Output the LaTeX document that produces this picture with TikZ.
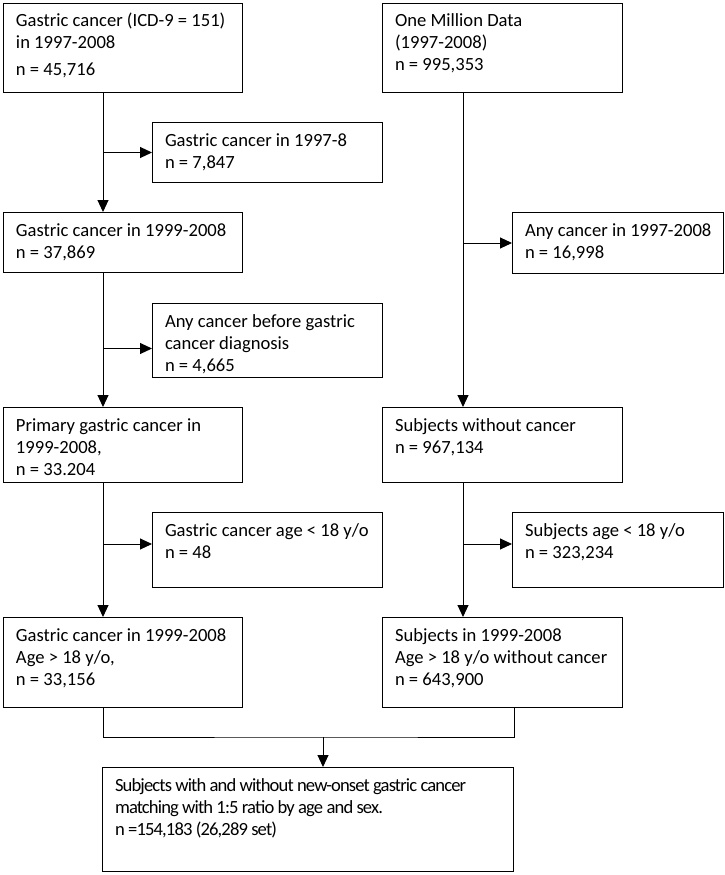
\documentclass[tikz,border=0pt]{standalone}
\usepackage{fontspec}
\setmainfont{Carlito}
\newfontfamily\tightfont[LetterSpace=-4.7]{Carlito}
\usepackage{tikz}
\usetikzlibrary{arrows.meta}

\tikzset{
	flowbox/.style={draw=black, line width=1pt, anchor=north west, align=flush left, inner xsep=0pt, inner ysep=0pt, text height=23.5pt, font=\fontsize{18.6}{22}\selectfont, execute at begin node={\leftskip=12.5pt}},
	flowarrow/.style={-{Triangle[length=12pt,width=11pt]}, line width=1pt}
}

\begin{document}
\begin{tikzpicture}[x=1pt, y=-1pt]
	\useasboundingbox (0,0) rectangle (725,875);
	% left column: gastric cancer
	\node[flowbox, text width=239pt, text depth=65.5pt](gcall) at (3,3){Gastric cancer (ICD-9 = 151)\\in 1997-2008\\[5pt]n = 45,716};
	\node[flowbox, text width=230pt, text depth=36.5pt](gcearly) at (152,122){Gastric cancer in 1997-8\\n = 7,847};
	\node[flowbox, text width=239pt, text depth=36.5pt](gclate) at (3,212){Gastric cancer in 1999-2008\\n = 37,869};
	\node[flowbox, text width=230pt, text depth=50.5pt](anyca) at (152,303){Any cancer before gastric\\cancer diagnosis\\n = 4,665};
	\node[flowbox, text width=239pt, text depth=51.5pt](primgc) at (3,407){Primary gastric cancer in\\1999-2008,\\n = 33.204};
	\node[flowbox, text width=230pt, text depth=51.5pt](gcyoung) at (152,512){Gastric cancer age < 18 y/o\\n = 48};
	\node[flowbox, text width=239pt, text depth=66.5pt](gcadult) at (3,617){Gastric cancer in 1999-2008\\Age > 18 y/o,\\n = 33,156};
	% right column: one million data
	\node[flowbox, text width=240pt, text depth=65.5pt](omd) at (382,3){One Million Data\\(1997-2008)\\n = 995,353};
	\node[flowbox, text width=211pt, text depth=37.5pt](anyca2) at (512,212){Any cancer in 1997-2008\\n = 16,998};
	\node[flowbox, text width=240pt, text depth=51.5pt](nocancer) at (382,407){Subjects without cancer\\n = 967,134};
	\node[flowbox, text width=211pt, text depth=51.5pt](young) at (512,512){Subjects age < 18 y/o\\n = 323,234};
	\node[flowbox, text width=240pt, text depth=66.5pt](adult) at (382,617){Subjects in 1999-2008\\Age > 18 y/o without cancer\\n = 643,900};
	% matched set
	\node[flowbox, text width=411pt, text depth=80.5pt](matched) at (102,767){\tightfont Subjects with and without new-onset gastric cancer\\matching with 1:5 ratio by age and sex.\\n =154,183 (26,289 set)};

	\draw[flowarrow]([xshift=100pt]gcall.south west) -- ([xshift=100pt]gclate.north west);
	\draw[flowarrow]([xshift=100pt]gclate.south west) -- ([xshift=100pt]primgc.north west);
	\draw[flowarrow]([xshift=100pt]primgc.south west) -- ([xshift=100pt]gcadult.north west);
	\draw[flowarrow]([xshift=81pt]omd.south west) -- ([xshift=81pt]nocancer.north west);
	\draw[flowarrow]([xshift=81pt]nocancer.south west) -- ([xshift=81pt]adult.north west);

	\draw[flowarrow]([xshift=100pt]gcall.south west |- gcearly.west) -- (gcearly.west);
	\draw[flowarrow]([xshift=100pt]gcall.south west |- anyca.west) ++(0,8) -- ([yshift=-8pt]anyca.west);
	\draw[flowarrow]([xshift=100pt]gcall.south west |- gcyoung.west) ++(0,-6) -- ([yshift=6pt]gcyoung.west);
	\draw[flowarrow]([xshift=81pt]omd.south west |- anyca2.west) -- (anyca2.west);
	\draw[flowarrow]([xshift=81pt]omd.south west |- young.west) ++(0,-6) -- ([yshift=6pt]young.west);

	\coordinate (merge) at (323,737);
	\draw[line width=1pt]([xshift=100pt]gcadult.south west) |- (merge) -| (matched.north east |- adult.south);
	\draw[flowarrow](merge) -- (merge |- matched.north);
\end{tikzpicture}
\end{document}
